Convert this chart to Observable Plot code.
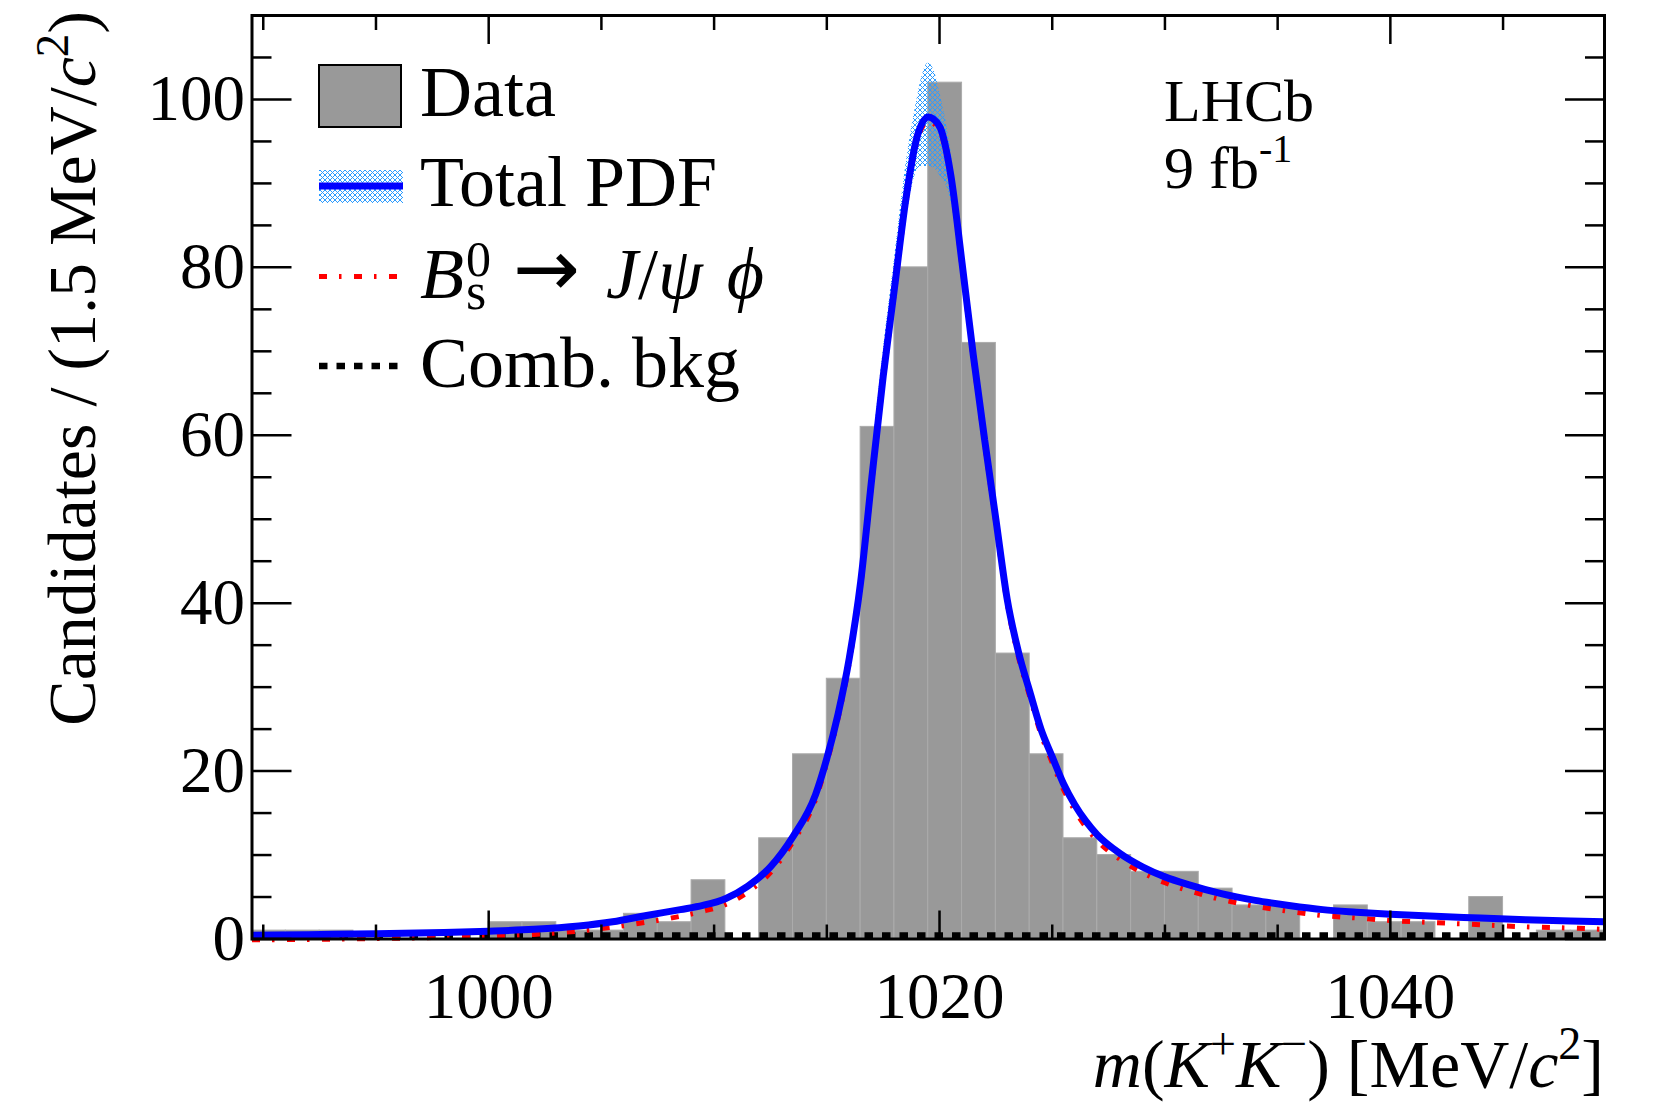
<!DOCTYPE html>
<html><head><meta charset="utf-8">
<script src="https://cdn.jsdelivr.net/npm/d3@7"></script>
<script src="https://cdn.jsdelivr.net/npm/@observablehq/plot@0.6"></script>
<style>html,body{margin:0;padding:0;background:#fff} svg{display:block}</style>
</head><body><div id="chart"></div>
<script>
// ---- data ----
const binStart = 989.5;       // MeV/c^2, lower edge of first bin
const binWidth = 1.5;         // MeV/c^2
const counts = [1,1,1,0,0,0,0,2,2,1, 1,3,2,7,0,12,22,31,61,80, 102,71,34,22,12,10,8,8,6,4, 4,0,4,2,2,0,5,0,1,1];

const curveMass = [989.5, 992, 995, 998, 1000, 1002, 1004, 1005.5, 1007, 1008.5, 1009.5, 1010.5, 1011.5, 1012.5, 1013.5, 1014.5, 1015, 1015.5, 1016, 1016.5, 1017, 1017.5, 1018, 1018.5, 1019, 1019.5, 1020, 1020.5, 1021, 1021.5, 1022, 1022.5, 1023, 1023.5, 1024, 1024.5, 1025, 1025.5, 1026, 1026.5, 1027, 1028, 1029, 1030, 1031, 1032.5, 1034, 1035.5, 1037, 1038.5, 1040, 1042, 1044, 1046, 1048, 1049.5];
const totalPdf = [0.45, 0.52, 0.62, 0.78, 0.93, 1.15, 1.55, 2.05, 2.8, 3.5, 4.0, 4.8, 6.3, 8.6, 12.2, 17.2, 21.5, 26.8, 33.5, 42.5, 55, 67, 77.5, 88, 95.5, 97.9, 96.8, 91, 80.5, 69.5, 59.5, 50, 40.5, 34.2, 29.5, 25, 21.7, 18.5, 16.0, 14.0, 12.4, 10.2, 8.6, 7.4, 6.5, 5.4, 4.6, 4.0, 3.5, 3.2, 2.95, 2.7, 2.5, 2.3, 2.15, 2.05];
const signalPdf = [-0.1, -0.05, 0.05, 0.2, 0.32, 0.55, 0.95, 1.4, 2.0, 2.7, 3.3, 4.1, 5.6, 7.9, 11.6, 16.6, 21.0, 26.3, 33.0, 42.0, 54.5, 66.5, 77, 87.5, 95, 97.4, 96.3, 90.5, 80, 69, 59, 49.5, 40, 33.6, 28.9, 24.4, 21.0, 17.8, 15.3, 13.3, 11.7, 9.5, 7.9, 6.7, 5.8, 4.7, 3.9, 3.3, 2.8, 2.5, 2.2, 1.95, 1.7, 1.45, 1.3, 1.15];

const bandMass = [1015, 1016, 1016.5, 1017, 1017.5, 1018, 1018.5, 1019, 1019.25, 1019.5, 1019.75, 1020, 1020.5, 1021, 1021.5, 1022, 1023, 1024];
const bandHigh = [22.5, 35, 44.5, 57.5, 70, 81, 92, 100, 103, 104.3, 103.5, 101, 94, 83, 71.5, 61, 41.5, 30.3];
const bandLow  = [20.8, 32.2, 41, 53, 64.5, 75, 85, 91.5, 92, 92, 91.8, 91, 88, 78.5, 67.8, 58.3, 39.5, 28.8];

const combMass = [989.5, 1049.5];
const combBkg = [0.42, 0.42];

const xDomain = [989.5, 1049.5];
const yDomain = [0, 110];
const xMajor = [1000, 1020, 1040];
const xMinor = [990, 995, 1005, 1010, 1015, 1025, 1030, 1035, 1045];
const yMajor = [0, 20, 40, 60, 80, 100];
const yMinor = [5, 10, 15, 25, 30, 35, 45, 50, 55, 65, 70, 75, 85, 90, 95, 105];

// ---- tables built from the arrays ----
const bins = counts.map((n, i) => ({lo: binStart + i * binWidth, hi: binStart + (i + 1) * binWidth, n})).filter(d => d.n > 0);
const curves = curveMass.map((m, i) => ({m, tot: totalPdf[i], sig: signalPdf[i]}));
const band = bandMass.map((m, i) => ({m, lo: bandLow[i], hi: bandHigh[i]}));
const comb = combMass.map((m, i) => ({m, v: combBkg[i]}));

const serif = "'Liberation Serif', 'Times New Roman', serif";
const redDash = "8,12,2.5,12.5";
const dotDash = "8.5,9";
const tickOpts = {tickFormat: () => "", strokeWidth: 2.5, label: null};

const chart = Plot.plot({
  width: 1655, height: 1103,
  marginLeft: 251.5, marginRight: 51, marginTop: 15, marginBottom: 164.5,
  style: {fontFamily: serif, background: "white", color: "black"},
  x: {domain: xDomain},
  y: {domain: yDomain},
  marks: [
    Plot.rectY(bins, {x1: "lo", x2: "hi", y: "n", fill: "#999999", stroke: "#ababab", strokeWidth: 1}),
    Plot.areaY(band, {x: "m", y1: "lo", y2: "hi", fill: "url(#xhatch)", curve: "monotone-x"}),
    Plot.line(comb, {x: "m", y: "v", stroke: "black", strokeWidth: 6.5, strokeDasharray: dotDash, strokeLinecap: "butt"}),
    Plot.line(curves, {x: "m", y: "sig", stroke: "#ff0000", strokeWidth: 5, strokeDasharray: redDash, strokeLinecap: "butt", curve: "monotone-x"}),
    Plot.line(curves, {x: "m", y: "tot", stroke: "#0000ff", strokeWidth: 7, strokeLinecap: "butt", curve: "monotone-x"}),
    // tick marks pointing inward on all four sides
    Plot.axisX(xMajor, {anchor: "bottom", tickSize: -28, ...tickOpts}),
    Plot.axisX(xMinor, {anchor: "bottom", tickSize: -14, ...tickOpts}),
    Plot.axisX(xMajor, {anchor: "top", tickSize: -28, ...tickOpts}),
    Plot.axisX(xMinor, {anchor: "top", tickSize: -14, ...tickOpts}),
    Plot.axisY(yMajor, {anchor: "left", tickSize: -40, ...tickOpts}),
    Plot.axisY(yMinor, {anchor: "left", tickSize: -20, ...tickOpts}),
    Plot.axisY(yMajor, {anchor: "right", tickSize: -40, ...tickOpts}),
    Plot.axisY(yMinor, {anchor: "right", tickSize: -20, ...tickOpts}),
    // tick labels
    Plot.axisX(xMajor, {anchor: "bottom", tickSize: 0, tickPadding: 33, fontSize: 65, tickFormat: d => String(d), label: null}),
    Plot.axisY(yMajor, {anchor: "left", tickSize: 0, tickPadding: 7, fontSize: 65, tickFormat: d => String(d), label: null}),
    Plot.frame({stroke: "black", strokeWidth: 3})
  ]
});
document.getElementById("chart").appendChild(chart);

const svg = d3.select(chart);
// cross-hatch pattern for the PDF uncertainty band
const pat = svg.insert("defs", ":first-child").append("pattern")
  .attr("id", "xhatch").attr("patternUnits", "userSpaceOnUse").attr("width", 5).attr("height", 5);
pat.append("path").attr("d", "M0,0L5,5M5,0L0,5").attr("stroke", "#2b9bff").attr("stroke-width", 1).attr("fill", "none");

// axis titles
const yt = svg.append("text").attr("font-family", serif).attr("font-size", 68)
  .attr("transform", "translate(95,11) rotate(-90)").attr("text-anchor", "end");
yt.append("tspan").text("Candidates / (1.5 MeV/");
yt.append("tspan").attr("font-style", "italic").text("c");
yt.append("tspan").attr("font-size", 47).attr("dy", -27).text("2");
yt.append("tspan").attr("dy", 27).text(")");

const xt = svg.append("text").attr("font-family", serif).attr("font-size", 68)
  .attr("x", 1604).attr("y", 1087).attr("text-anchor", "end");
xt.append("tspan").attr("font-style", "italic").text("m");
xt.append("tspan").text("(");
xt.append("tspan").attr("font-style", "italic").text("K");
xt.append("tspan").attr("font-size", 46).attr("dy", -28).text("+");
xt.append("tspan").attr("font-style", "italic").attr("dy", 28).text("K");
xt.append("tspan").attr("font-size", 46).attr("dy", -28).text("\u2212");
xt.append("tspan").attr("dy", 28).text(") [MeV/");
xt.append("tspan").attr("font-style", "italic").text("c");
xt.append("tspan").attr("font-size", 46).attr("dy", -28).text("2");
xt.append("tspan").attr("dy", 28).text("]");

// LHCb label
const lab = svg.append("g").attr("font-family", serif).attr("font-size", 60).attr("text-anchor", "start");
lab.append("text").attr("x", 1164).attr("y", 121).text("LHCb");
const lumi = lab.append("text").attr("x", 1164).attr("y", 188);
lumi.append("tspan").text("9 fb");
lumi.append("tspan").attr("font-size", 40).attr("dy", -26).text("-1");

// legend
const lg = svg.append("g").attr("font-family", serif).attr("font-size", 72).attr("text-anchor", "start");
lg.append("rect").attr("x", 319).attr("y", 65).attr("width", 82).attr("height", 62)
  .attr("fill", "#999999").attr("stroke", "black").attr("stroke-width", 2);
lg.append("text").attr("x", 420).attr("y", 116).text("Data");

lg.append("rect").attr("x", 319).attr("y", 170).attr("width", 84).attr("height", 33).attr("fill", "url(#xhatch)");
lg.append("line").attr("x1", 319).attr("x2", 403).attr("y1", 186).attr("y2", 186)
  .attr("stroke", "#0000ff").attr("stroke-width", 7);
lg.append("text").attr("x", 420).attr("y", 206).text("Total PDF");

lg.append("line").attr("x1", 319).attr("x2", 399).attr("y1", 276.5).attr("y2", 276.5)
  .attr("stroke", "#ff0000").attr("stroke-width", 5).attr("stroke-dasharray", redDash);
lg.append("text").attr("x", 420).attr("y", 298).attr("font-style", "italic").text("B");
lg.append("text").attr("x", 466).attr("y", 276).attr("font-size", 50).text("0");
lg.append("text").attr("x", 466).attr("y", 309).attr("font-size", 52).text("s");
lg.append("text").attr("x", 513).attr("y", 296).attr("font-family", "'DejaVu Sans', sans-serif").attr("font-size", 80).text("\u2192");
const jp = lg.append("text").attr("x", 606).attr("y", 298);
jp.append("tspan").attr("font-style", "italic").text("J");
jp.append("tspan").text("/");
jp.append("tspan").attr("font-style", "italic").text("\u03C8");
jp.append("tspan").attr("font-style", "italic").attr("dx", 24).text("\u03D5");

lg.append("line").attr("x1", 319).attr("x2", 399).attr("y1", 366).attr("y2", 366)
  .attr("stroke", "black").attr("stroke-width", 6.5).attr("stroke-dasharray", dotDash);
lg.append("text").attr("x", 420).attr("y", 387).text("Comb. bkg");
</script>
</body></html>
